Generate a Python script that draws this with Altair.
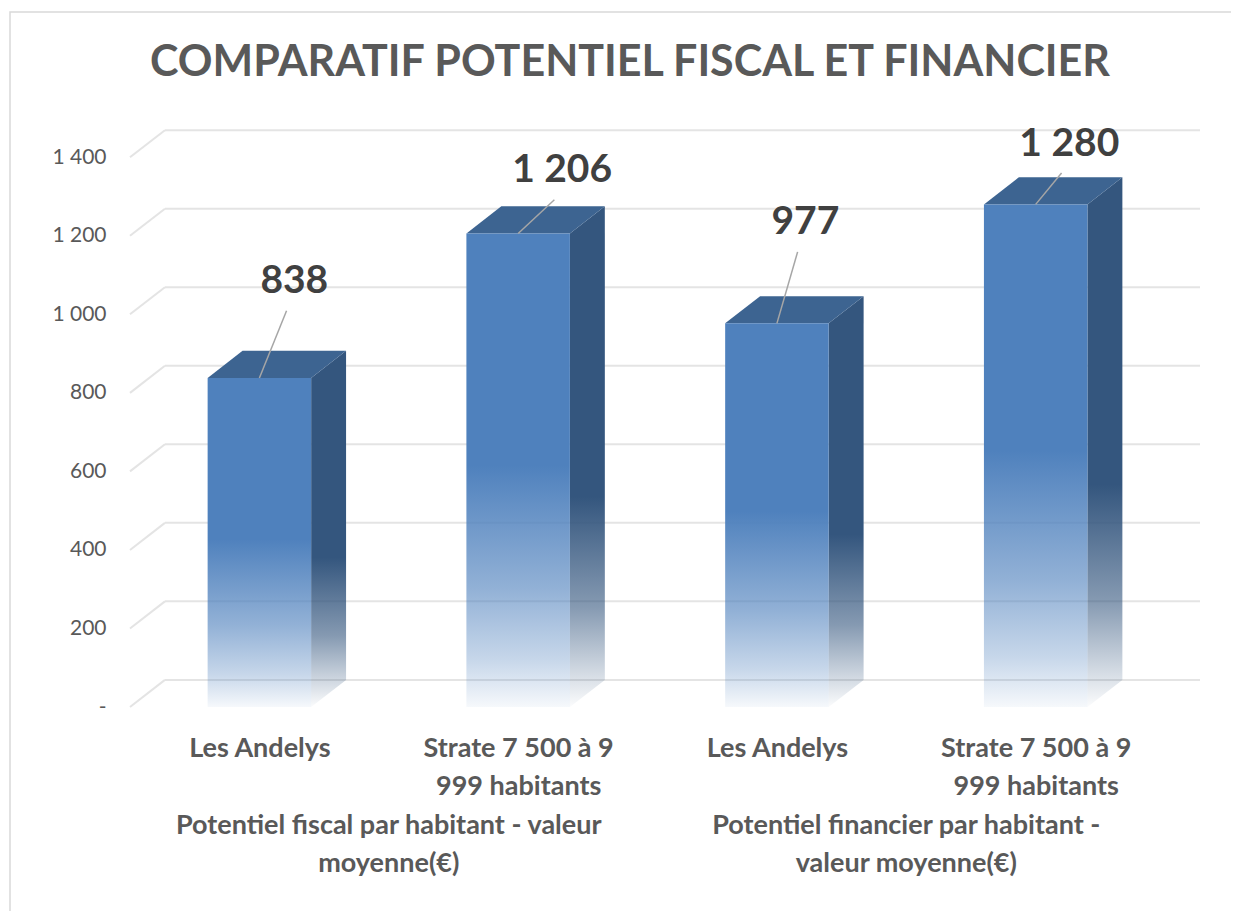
import json
import altair as alt
import pandas as pd

# ---- data ----
category_lines = [
    ["Les Andelys"],
    ["Strate 7 500 à 9", "999 habitants"],
    ["Les Andelys"],
    ["Strate 7 500 à 9", "999 habitants"],
]
group_lines = [
    "Potentiel fiscal par habitant - valeur\nmoyenne(€)",
    "Potentiel financier par habitant -\nvaleur moyenne(€)",
]
values = [838, 1206, 977, 1280]
y_ticks = [0, 200, 400, 600, 800, 1000, 1200, 1400]
title_text = "COMPARATIF POTENTIEL FISCAL ET FINANCIER"

# ---- layout / style constants (not data) ----
HALF = 0.2      # half bar width, in category units
DX = 0.135      # 3D depth, horizontal (category units)
DY = 69         # 3D depth, vertical (value units)
LABEL_LIFT = [246, 161, 257, 155]     # manual label placement above bars
LABEL_SHIFT = [0.135, 0.17, 0.11, 0.13]
FONT = "Lato"
TEXT_COLOR = "#595959"

n = len(values)
x_scale = alt.Scale(domain=[-0.5, n - 0.5 + DX], nice=False, zero=False)
y_scale = alt.Scale(domain=[0, 1500], nice=False)

x_axis = alt.Axis(
    values=list(range(n)),
    labelExpr=f"{json.dumps(category_lines)}[round(datum.value)]",
    ticks=False, domain=False, grid=False, title=None,
    labelFont=FONT, labelFontSize=27, labelFontWeight="bold",
    labelColor=TEXT_COLOR, labelPadding=28, labelLineHeight=38,
    labelLimit=500, labelOverlap=False,
)
y_axis = alt.Axis(
    values=y_ticks,
    labelExpr="datum.value == 0 ? '-' : replace(format(datum.value, ','), ',', ' ')",
    ticks=False, domain=False, grid=False, title=None,
    labelFont=FONT, labelFontSize=21, labelColor=TEXT_COLOR, labelPadding=24,
)

# ---- tables ----
bars = pd.DataFrame({"i": list(range(n)), "value": values})
bars["xl"] = bars["i"] - HALF
bars["xr"] = bars["i"] + HALF
bars["lx"] = bars["i"] + pd.Series(LABEL_SHIFT)
bars["ly"] = bars["value"] + pd.Series(LABEL_LIFT)
bars["lx0"] = bars["lx"] - 0.03
bars["ly0"] = bars["ly"] - 75

side_rows, top_rows = [], []
for i, v in enumerate(values):
    side_rows += [
        {"bar": i, "x": i + HALF, "y": v, "y2": 0},
        {"bar": i, "x": i + HALF + DX, "y": v + DY, "y2": DY},
    ]
    top_rows += [
        {"bar": i, "y": v, "x": i - HALF, "x2": i + HALF},
        {"bar": i, "y": v + DY, "x": i - HALF + DX, "x2": i + HALF + DX},
    ]
side = pd.DataFrame(side_rows)
top = pd.DataFrame(top_rows)

grid = pd.DataFrame({"v": y_ticks})
grid["vb"] = grid["v"] + DY
grid["x0"] = -0.5
grid["x1"] = -0.5 + DX
grid["xe"] = n - 0.5 + DX

groups = pd.DataFrame({"gx": [0.5, 2.5], "label": group_lines})

GRID_COLOR = "#e4e4e4"

front_fill = alt.Gradient(
    gradient="linear", x1=0, y1=0, x2=0, y2=1,
    stops=[
        alt.GradientStop(offset=0, color="#4F81BD"),
        alt.GradientStop(offset=0.49, color="#4F81BD"),
        alt.GradientStop(offset=0.75, color="rgba(79,129,189,0.62)"),
        alt.GradientStop(offset=0.9, color="rgba(79,129,189,0.32)"),
        alt.GradientStop(offset=1, color="rgba(79,129,189,0.05)"),
    ],
)
side_fill = alt.Gradient(
    gradient="linear", x1=0, y1=0, x2=0, y2=1,
    stops=[
        alt.GradientStop(offset=0, color="#34567E"),
        alt.GradientStop(offset=0.58, color="#34567E"),
        alt.GradientStop(offset=0.8, color="rgba(52,86,126,0.6)"),
        alt.GradientStop(offset=1, color="rgba(52,86,126,0.02)"),
    ],
)

# ---- layers ----
frame = alt.Chart(pd.DataFrame({"a": [0]})).mark_rect(
    fillOpacity=0, stroke="#d9d9d9", strokeWidth=1.5
).encode(
    x=alt.value(-120), x2=alt.value(1130), y=alt.value(-106), y2=alt.value(820)
)
title_mark = alt.Chart(pd.DataFrame({"t": [title_text]})).mark_text(
    font=FONT, fontSize=43, fontWeight="bold", color=TEXT_COLOR,
    baseline="middle", align="center",
).encode(x=alt.value(500), y=alt.value(-55), text="t:N")

grid_h = alt.Chart(grid).mark_rule(color=GRID_COLOR, strokeWidth=2).encode(
    x=alt.X("x1:Q", scale=x_scale, axis=x_axis),
    x2="xe:Q",
    y=alt.Y("vb:Q", scale=y_scale, axis=y_axis),
)
grid_d = alt.Chart(grid).mark_rule(color=GRID_COLOR, strokeWidth=2).encode(
    x=alt.X("x0:Q", scale=x_scale, axis=x_axis),
    x2="x1:Q",
    y=alt.Y("v:Q", scale=y_scale, axis=y_axis),
    y2="vb:Q",
)

side_layer = alt.Chart(side).mark_area(fill=side_fill, interpolate="linear").encode(
    x=alt.X("x:Q", scale=x_scale, axis=x_axis),
    y=alt.Y("y:Q", scale=y_scale, axis=y_axis),
    y2="y2:Q",
    detail="bar:N",
)
top_layer = alt.Chart(top).mark_area(
    fill="#3D6491", orient="horizontal", interpolate="linear"
).encode(
    y=alt.Y("y:Q", scale=y_scale, axis=y_axis),
    x=alt.X("x:Q", scale=x_scale, axis=x_axis),
    x2="x2:Q",
    detail="bar:N",
)
front_layer = alt.Chart(bars).mark_rect(fill=front_fill).encode(
    x=alt.X("xl:Q", scale=x_scale, axis=x_axis),
    x2="xr:Q",
    y=alt.Y("value:Q", scale=y_scale, axis=y_axis),
    y2=alt.datum(0),
)
leaders = alt.Chart(bars).mark_rule(color="#a6a6a6", strokeWidth=1.5).encode(
    x=alt.X("i:Q", scale=x_scale, axis=x_axis),
    y=alt.Y("value:Q", scale=y_scale, axis=y_axis),
    x2="lx0:Q",
    y2="ly0:Q",
)
labels = alt.Chart(bars).transform_calculate(
    txt="replace(format(datum.value, ','), ',', ' ')"
).mark_text(
    font=FONT, fontSize=39, fontWeight="bold", color="#404040", baseline="middle"
).encode(
    x=alt.X("lx:Q", scale=x_scale, axis=x_axis),
    y=alt.Y("ly:Q", scale=y_scale, axis=y_axis),
    text="txt:N",
)
group_text = alt.Chart(groups).mark_text(
    font=FONT, fontSize=27, fontWeight="bold", color=TEXT_COLOR,
    baseline="top", lineBreak="\n", lineHeight=38,
).encode(
    x=alt.X("gx:Q", scale=x_scale, axis=x_axis),
    y=alt.value(695),
    text="label:N",
)

chart = alt.layer(
    frame, title_mark, grid_h, grid_d, side_layer, top_layer, front_layer,
    leaders, labels, group_text
).properties(
    width=1070,
    height=589,
    autosize=alt.AutoSizeParams(type="none"),
    padding={"left": 122, "top": 110, "right": 31, "bottom": 204},
).configure(
    background="white", view=alt.ViewConfig(stroke="transparent", strokeWidth=0)
)

chart.save("out.html", embed_options={"renderer": "svg", "actions": False})
